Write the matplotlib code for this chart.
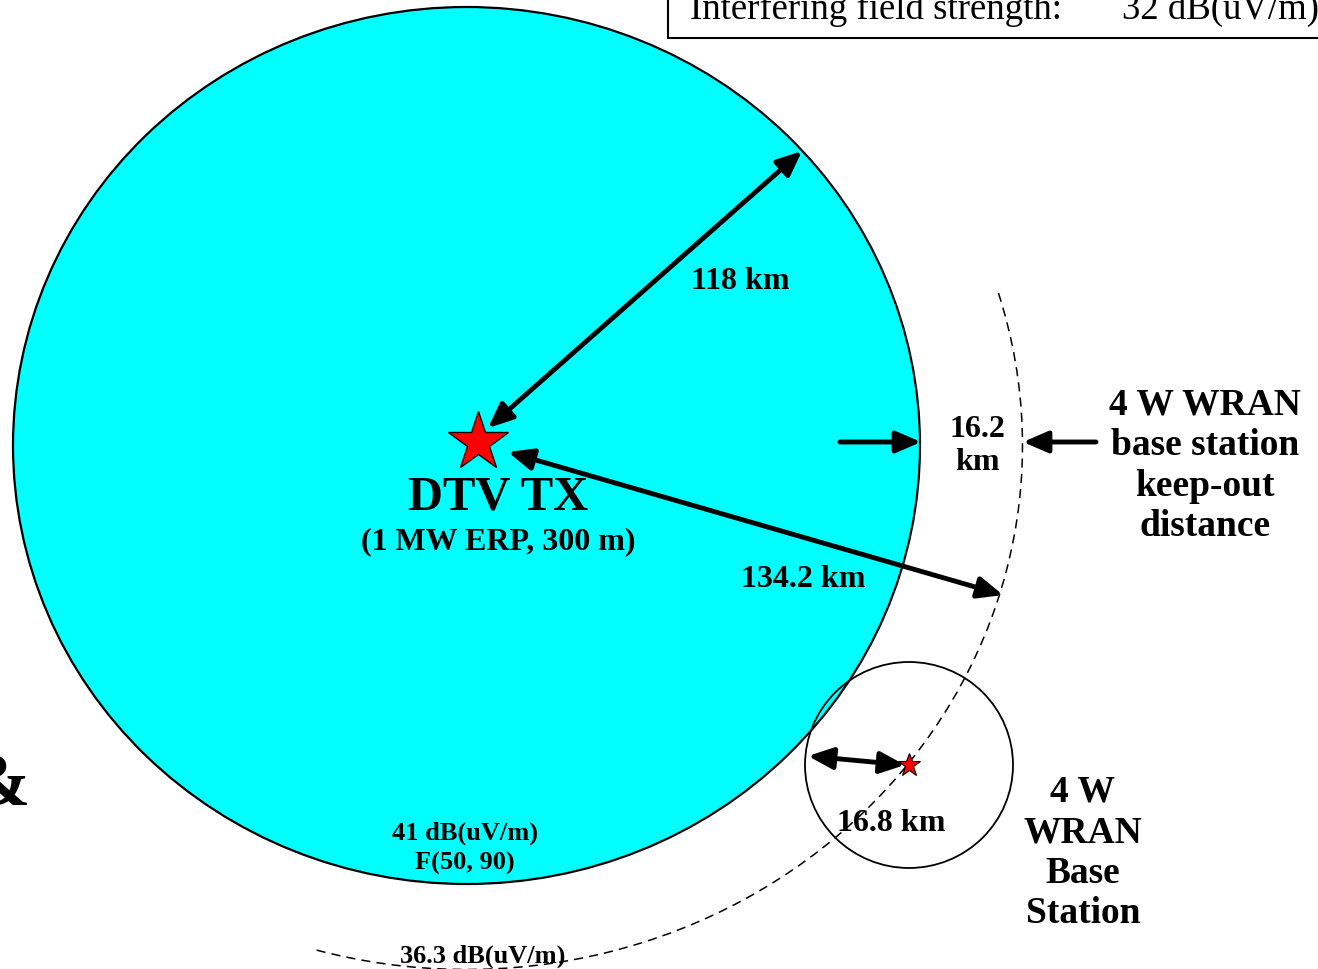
import matplotlib
matplotlib.use("Agg")
import matplotlib.pyplot as plt
from matplotlib.patches import Ellipse, Arc, Rectangle, FancyArrowPatch, ArrowStyle

# values shown on the diagram
distance_km = [118, 134.2, 16.2, 16.8]
distance_names = ["protected contour", "keep-out radius", "keep-out margin", "WRAN interference radius"]
field_dbuv = [41, 36.3, 32]
field_names = ["DTV contour F(50, 90)", "keep-out contour", "interfering"]
wran_power_w = 4
dtv_erp_mw = 1
dtv_haat_m = 300

plt.rcParams["font.family"] = ["Liberation Serif", "DejaVu Serif"]

fig = plt.figure(figsize=(13.18, 9.70), dpi=100)
ax = fig.add_axes([0, 0, 1, 1])
ax.set_xlim(0, 1318)
ax.set_ylim(970, 0)
ax.axis("off")

# layout in picture pixels
tx = (466.5, 446.5)           # DTV transmitter / contour centre
wran = (909, 766)             # WRAN base station

# DTV protected contour
ax.add_patch(Ellipse(tx, 907, 877, facecolor="#00ffff", edgecolor="black", lw=1.6, zorder=1))
# keep-out contour (dashed)
ax.add_patch(Arc(tx, 1112, 1048, theta1=-16, theta2=107, edgecolor="black", lw=1.1,
                 linestyle=(0, (6, 4)), zorder=2))
# WRAN interference circle
ax.add_patch(Ellipse(wran, 208, 206, facecolor="none", edgecolor="black", lw=1.3, zorder=3))

# transmitters
ax.plot(478, 443, marker="*", markersize=45, color="red", mec="black", mew=1.0, zorder=6)
ax.plot(wran[0], wran[1], marker="*", markersize=17, color="red", mec="black", mew=0.8, zorder=6)


def arrow(p0, p1, style="<|-|>"):
    st = ArrowStyle(style, head_length=15, head_width=6.5)
    ax.add_patch(FancyArrowPatch(p0, p1, arrowstyle=st, mutation_scale=1, lw=3.5,
                                 color="black", shrinkA=0, shrinkB=0, zorder=5))


arrow((488, 429), (802, 152))
arrow((508, 453), (1003, 596))
arrow((840, 443), (921, 443), "-|>")
arrow((1096, 443), (1023, 443), "-|>")
arrow((808, 757), (905, 766))

bold = dict(fontweight="bold", ha="center", va="center", color="black", zorder=7)

ax.text(740, 282, f"{distance_km[0]:g} km", fontsize=23, **bold)
ax.text(803, 580, f"{distance_km[1]:g} km", fontsize=23, **bold)
ax.text(977, 446, f"{distance_km[2]:g}\nkm", fontsize=23, linespacing=1.15, **bold)
ax.text(891, 824, f"{distance_km[3]:g} km", fontsize=23, **bold)

ax.text(498, 498, "DTV TX", fontsize=35, **bold)
ax.text(498, 542, f"({dtv_erp_mw} MW ERP, {dtv_haat_m} m)", fontsize=23, **bold)

ax.text(1205, 466, f"{wran_power_w} W WRAN\nbase station\nkeep-out\ndistance",
        fontsize=27, linespacing=1.2, **bold)
ax.text(1083, 853, f"{wran_power_w} W\nWRAN\nBase\nStation",
        fontsize=27, linespacing=1.2, **bold)

ax.text(465, 848, f"{field_dbuv[0]:g} dB(uV/m)\nF(50, 90)", fontsize=19, linespacing=1.35, **bold)
ax.text(483, 956, f"{field_dbuv[1]:g} dB(uV/m)", fontsize=19, **bold)

# clipped legend box at top right
ax.add_patch(Rectangle((668, -20), 700, 59, facecolor="white", edgecolor="black", lw=1.5, zorder=8))
ax.text(690, 19, "Interfering field strength:", fontsize=26.5, ha="left", va="baseline", zorder=9)
ax.text(1122, 19, f"{field_dbuv[2]:g} dB(uV/m)", fontsize=26.5, ha="left", va="baseline", zorder=9)

# clipped ampersand at left edge
ax.text(30, 806, "&", fontsize=54, fontweight="bold", ha="right", va="baseline", zorder=7)

fig.savefig("out.png", dpi=100)
